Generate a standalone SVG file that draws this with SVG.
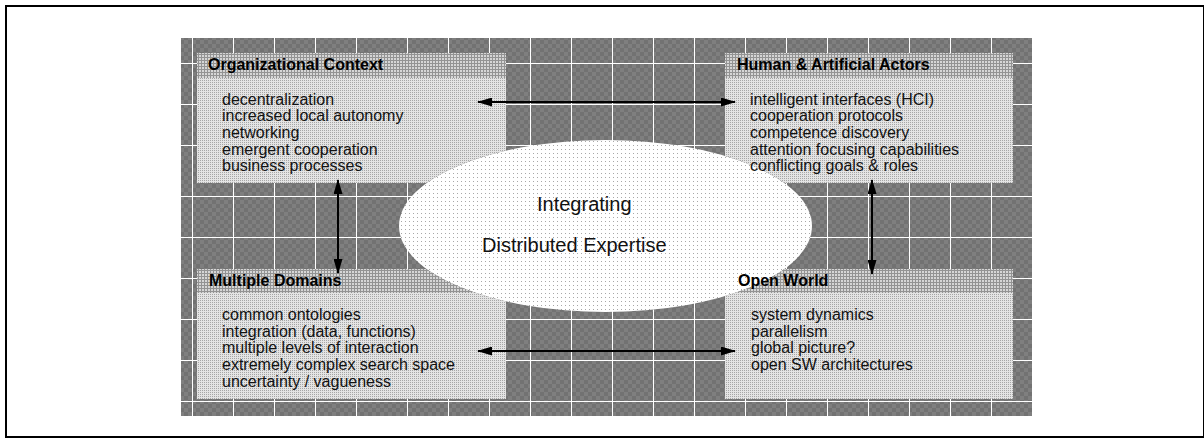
<svg xmlns="http://www.w3.org/2000/svg" width="1204" height="443" viewBox="0 0 1204 443">
<style>
.frame{fill:none;stroke:#000;stroke-width:2}
.grid line{stroke:#fff;stroke-width:1}
.hdr{fill:url(#hdrp)}
.body{fill:url(#bodyp)}
.ht{font-family:"Liberation Sans",Arial,sans-serif;font-size:16px;font-weight:bold;fill:#000}
.bt{font-family:"Liberation Sans",Arial,sans-serif;font-size:16px;fill:#111}
.et{font-family:"Liberation Sans",Arial,sans-serif;font-size:20px;fill:#111}
.conn line{stroke:#000;stroke-width:2;marker-start:url(#ah);marker-end:url(#ah)}
</style>
<defs>
<pattern id="bgp" width="8" height="8" patternUnits="userSpaceOnUse">
<rect width="8" height="8" fill="#727272"/>
<rect width="4" height="4" fill="#7f7f7f"/>
<rect x="4" y="4" width="4" height="4" fill="#7f7f7f"/>
</pattern>
<pattern id="hdrp" width="3" height="3" patternUnits="userSpaceOnUse">
<rect width="3" height="3" fill="#d6d6d6"/>
<rect width="3" height="1" fill="#939393"/>
<rect width="1" height="3" fill="#939393"/>
</pattern>
<pattern id="bodyp" width="2" height="2" patternUnits="userSpaceOnUse">
<rect width="2" height="2" fill="#e4e4e4"/>
<rect width="1" height="1" fill="#a6a6a6"/>
</pattern>
<pattern id="ellp" width="4" height="4" patternUnits="userSpaceOnUse">
<rect width="4" height="4" fill="#fff"/>
<rect x="1" y="1" width="1" height="1" fill="#a8a8a8"/>
</pattern>
<mask id="cut" maskUnits="userSpaceOnUse" x="0" y="0" width="1204" height="443">
<rect width="1204" height="443" fill="#fff"/>
<ellipse cx="605.5" cy="226" rx="206.5" ry="86" fill="#000"/>
</mask>
<marker id="ah" markerUnits="userSpaceOnUse" viewBox="0 0 15 9" markerWidth="15" markerHeight="9" refX="14" refY="4.5" orient="auto-start-reverse">
<path d="M0,0 L15,4.5 L0,9 z" fill="#000"/>
</marker>
</defs>
<rect x="6" y="6" width="1198" height="431" class="frame"/>
<g id="background">
<rect x="181" y="38" width="851" height="378" fill="url(#bgp)"/>
<g class="grid">
<line x1="181" y1="63.5" x2="1032" y2="63.5"/>
<line x1="181" y1="104.5" x2="1032" y2="104.5"/>
<line x1="181" y1="145.5" x2="1032" y2="145.5"/>
<line x1="181" y1="196.5" x2="1032" y2="196.5"/>
<line x1="181" y1="237.5" x2="1032" y2="237.5"/>
<line x1="181" y1="278.5" x2="1032" y2="278.5"/>
<line x1="181" y1="319.5" x2="1032" y2="319.5"/>
<line x1="181" y1="360.5" x2="1032" y2="360.5"/>
<line x1="181" y1="401.5" x2="1032" y2="401.5"/>
<line x1="192.5" y1="38" x2="192.5" y2="416"/>
<line x1="233.5" y1="38" x2="233.5" y2="416"/>
<line x1="274.5" y1="38" x2="274.5" y2="416"/>
<line x1="315.5" y1="38" x2="315.5" y2="416"/>
<line x1="356.5" y1="38" x2="356.5" y2="416"/>
<line x1="407.5" y1="38" x2="407.5" y2="416"/>
<line x1="448.5" y1="38" x2="448.5" y2="416"/>
<line x1="489.5" y1="38" x2="489.5" y2="416"/>
<line x1="530.5" y1="38" x2="530.5" y2="416"/>
<line x1="571.5" y1="38" x2="571.5" y2="416"/>
<line x1="612.5" y1="38" x2="612.5" y2="416"/>
<line x1="653.5" y1="38" x2="653.5" y2="416"/>
<line x1="694.5" y1="38" x2="694.5" y2="416"/>
<line x1="745.5" y1="38" x2="745.5" y2="416"/>
<line x1="786.5" y1="38" x2="786.5" y2="416"/>
<line x1="827.5" y1="38" x2="827.5" y2="416"/>
<line x1="868.5" y1="38" x2="868.5" y2="416"/>
<line x1="909.5" y1="38" x2="909.5" y2="416"/>
<line x1="950.5" y1="38" x2="950.5" y2="416"/>
<line x1="991.5" y1="38" x2="991.5" y2="416"/>
</g>
</g>
<g id="integrating">
<ellipse cx="605.5" cy="226" rx="206.5" ry="86" fill="url(#ellp)"/>
<text class="et" x="537" y="211">Integrating</text>
<text class="et" x="482" y="252">Distributed Expertise</text>
</g>
<g id="organizational-context">
<g mask="url(#cut)">
<rect class="body" x="197" y="53" width="309" height="130"/>
<rect class="hdr" x="197" y="53" width="309" height="25"/>
</g>
<text class="ht" x="208" y="70">Organizational Context</text>
<text class="bt" x="222" y="104.7">decentralization</text>
<text class="bt" x="222" y="121.3">increased local autonomy</text>
<text class="bt" x="222" y="138">networking</text>
<text class="bt" x="222" y="154.7">emergent cooperation</text>
<text class="bt" x="222" y="171.3">business processes</text>
</g>
<g id="human-artificial-actors">
<g mask="url(#cut)">
<rect class="body" x="725" y="53" width="288" height="130"/>
<rect class="hdr" x="725" y="53" width="288" height="25"/>
</g>
<text class="ht" x="737" y="70">Human &amp; Artificial Actors</text>
<text class="bt" x="750" y="104.7">intelligent interfaces (HCI)</text>
<text class="bt" x="750" y="121.3">cooperation protocols</text>
<text class="bt" x="750" y="138">competence discovery</text>
<text class="bt" x="750" y="154.7">attention focusing capabilities</text>
<text class="bt" x="750" y="171.3">conflicting goals &amp; roles</text>
</g>
<g id="multiple-domains">
<g mask="url(#cut)">
<rect class="body" x="197" y="269" width="309" height="130"/>
<rect class="hdr" x="197" y="269" width="309" height="24"/>
</g>
<text class="ht" x="209" y="286">Multiple Domains</text>
<text class="bt" x="222" y="320">common ontologies</text>
<text class="bt" x="222" y="336.7">integration (data, functions)</text>
<text class="bt" x="222" y="353.3">multiple levels of interaction</text>
<text class="bt" x="222" y="370">extremely complex search space</text>
<text class="bt" x="222" y="386.7">uncertainty / vagueness</text>
</g>
<g id="open-world">
<g mask="url(#cut)">
<rect class="body" x="725" y="269" width="288" height="130"/>
<rect class="hdr" x="725" y="269" width="288" height="24"/>
</g>
<text class="ht" x="738" y="286">Open World</text>
<text class="bt" x="751" y="320">system dynamics</text>
<text class="bt" x="751" y="336.7">parallelism</text>
<text class="bt" x="751" y="353.3">global picture?</text>
<text class="bt" x="751" y="370">open SW architectures</text>
</g>
<g id="connectors" class="conn">
<line x1="478" y1="102" x2="735" y2="102"/>
<line x1="478" y1="351" x2="735" y2="351"/>
<line x1="338" y1="180" x2="338" y2="273"/>
<line x1="872" y1="180" x2="872" y2="274"/>
</g>
</svg>
